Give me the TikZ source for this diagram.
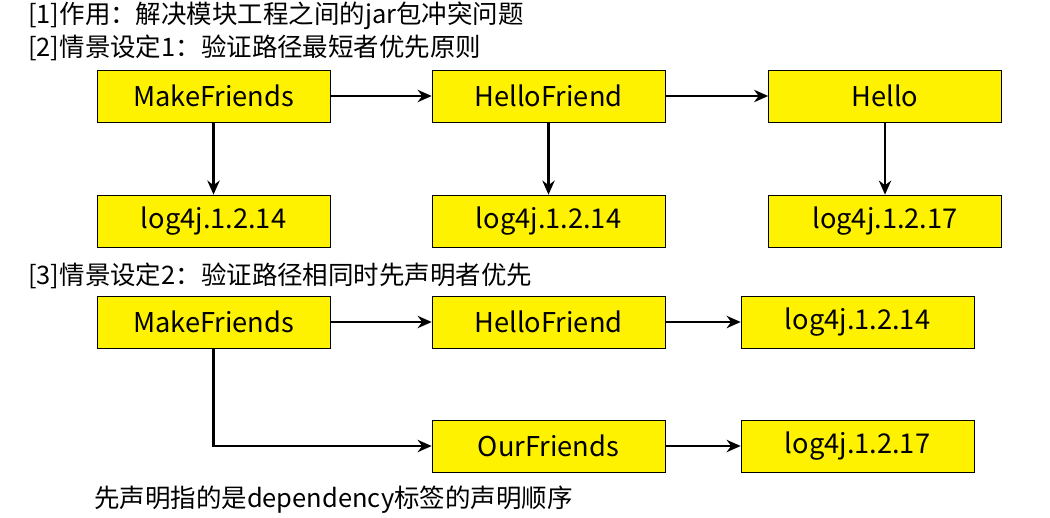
\documentclass[tikz,border=0pt]{standalone}
\usepackage{fontspec}
\setmainfont{Noto Sans CJK SC}
\usetikzlibrary{arrows.meta}
\begin{document}
\begin{tikzpicture}[x=0.02cm,y=-0.02cm,
    box/.style = {draw,fill=yellow,minimum width=4.66cm,minimum height=1.04cm,font=\fontsize{15.5}{18}\selectfont},
    arrow/.style = {line width=1.5pt,-{Stealth[length=8pt,width=7pt]}},
    txt/.style = {anchor=west,font=\fontsize{14.5}{17}\selectfont}]
    \useasboundingbox (0,0) rectangle (1050,517);
    \node[txt] (t1) at (22,16) {[1]作用：解决模块工程之间的jar包冲突问题};
    \node[txt] (t2) at (22,48) {[2]情景设定1：验证路径最短者优先原则};
    \node[txt] (t3) at (22,276) {[3]情景设定2：验证路径相同时先声明者优先};
    \node[txt] (t4) at (88,500) {先声明指的是dependency标签的声明顺序};

    \node[box] (mf1) at (213.5,96) {MakeFriends};
    \node[box] (hf1) at (548.5,96) {HelloFriend};
    \node[box] (h1) at (885,96) {Hello};
    \node[box] (la) at (213.5,221) {log4j.1.2.14};
    \node[box] (lb) at (548.5,221) {log4j.1.2.14};
    \node[box] (lc) at (885,221) {log4j.1.2.17};
    \draw[arrow] (mf1) -- (hf1);
    \draw[arrow] (hf1) -- (h1);
    \draw[arrow] (mf1) -- (la);
    \draw[arrow] (hf1) -- (lb);
    \draw[arrow] (h1) -- (lc);

    \node[box] (mf2) at (213.5,322) {MakeFriends};
    \node[box] (hf2) at (548.5,322) {HelloFriend};
    \node[box] (ld) at (857.5,322) {log4j.1.2.14};
    \node[box] (of) at (548.5,446) {OurFriends};
    \node[box] (le) at (857.5,446) {log4j.1.2.17};
    \draw[arrow] (mf2) -- (hf2);
    \draw[arrow] (hf2) -- (ld);
    \draw[arrow] (of) -- (le);
    \draw[arrow] (mf2.south) |- (of);
\end{tikzpicture}
\end{document}
